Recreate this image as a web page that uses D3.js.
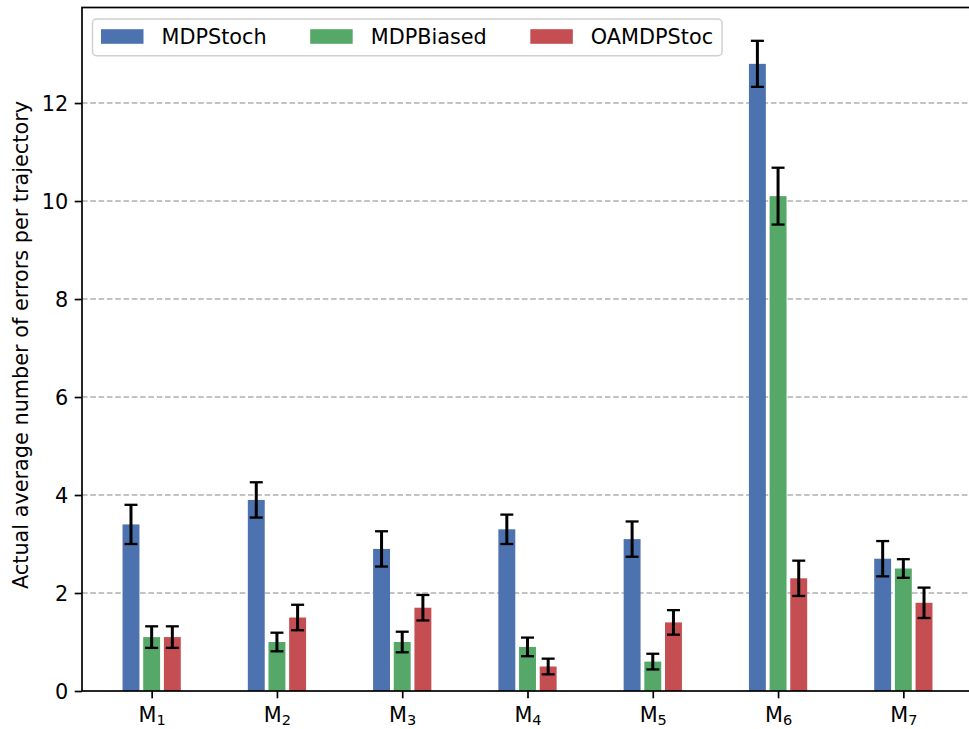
<!DOCTYPE html>
<html>
<head>
<meta charset="utf-8">
<script src="https://cdn.jsdelivr.net/npm/d3@7"></script>
<style>
  html, body { margin: 0; padding: 0; background: #fff; }
  svg { display: block; font-family: "DejaVu Sans", sans-serif; }
</style>
</head>
<body>
<svg id="chart" width="969" height="729"></svg>
<script>
// ---- data ----
const categories = ["1", "2", "3", "4", "5", "6", "7"]; // subscripts of M
const seriesNames = ["MDPStoch", "MDPBiased", "OAMDPStoc"];
const seriesColors = ["#4c72b0", "#55a868", "#c44e52"];
const mdpStoch      = [3.4, 3.9, 2.9, 3.3, 3.1, 12.8, 2.7];
const mdpStochErr   = [0.40, 0.36, 0.36, 0.30, 0.36, 0.47, 0.36];
const mdpBiased     = [1.1, 1.0, 1.0, 0.9, 0.6, 10.1, 2.5];
const mdpBiasedErr  = [0.22, 0.19, 0.21, 0.19, 0.16, 0.58, 0.19];
const oamdpStoc     = [1.1, 1.5, 1.7, 0.5, 1.4, 2.3, 1.8];
const oamdpStocErr  = [0.22, 0.26, 0.26, 0.16, 0.25, 0.36, 0.31];
const yTicks = [0, 2, 4, 6, 8, 10, 12];
const yLabel = "Actual average number of errors per trajectory";

const seriesValues = [mdpStoch, mdpBiased, oamdpStoc];
const seriesErrors = [mdpStochErr, mdpBiasedErr, oamdpStocErr];

// ---- layout ----
const W = 969, H = 729;
const plotLeft = 82, plotRight = 973, plotTop = 7.5, plotBottom = 691;
const FS = 20.8;
const svg = d3.select("#chart");

const x = d3.scaleLinear().domain([-0.556, categories.length - 1 + 0.556]).range([plotLeft, plotRight]);
const y = d3.scaleLinear().domain([0, 13.95]).range([plotBottom, plotTop]);
const barOffset = 0.165, barWidth = 0.135;

// grid
svg.append("g").selectAll("line").data(yTicks.filter(d => d > 0)).join("line")
  .attr("x1", plotLeft).attr("x2", plotRight)
  .attr("y1", d => y(d)).attr("y2", d => y(d))
  .attr("stroke", "#b0b0b0").attr("stroke-width", 1.5)
  .attr("stroke-dasharray", "5.6,2.7");

// bars
const rows = [];
seriesValues.forEach((vals, s) => vals.forEach((v, i) => rows.push({s, i, v, e: seriesErrors[s][i]})));
const xc = d => x(d.i + (d.s - 1) * barOffset);
svg.append("g").selectAll("rect").data(rows).join("rect")
  .attr("x", d => x(d.i + (d.s - 1) * barOffset - barWidth / 2))
  .attr("width", d => x(barWidth) - x(0))
  .attr("y", d => y(d.v))
  .attr("height", d => y(0) - y(d.v))
  .attr("fill", d => seriesColors[d.s]);

// error bars
const eg = svg.append("g").attr("stroke", "#000");
const capHalf = 6.5;
rows.forEach(d => {
  const cx = xc(d);
  eg.append("line").attr("x1", cx).attr("x2", cx).attr("y1", y(d.v - d.e)).attr("y2", y(d.v + d.e)).attr("stroke-width", 3);
  eg.append("line").attr("x1", cx - capHalf).attr("x2", cx + capHalf).attr("y1", y(d.v - d.e)).attr("y2", y(d.v - d.e)).attr("stroke-width", 2.3);
  eg.append("line").attr("x1", cx - capHalf).attr("x2", cx + capHalf).attr("y1", y(d.v + d.e)).attr("y2", y(d.v + d.e)).attr("stroke-width", 2.3);
});

// y axis
const yAxis = d3.axisLeft(y).tickValues(yTicks).tickSize(7.3).tickPadding(6.5).tickFormat(d3.format("d"));
const yg = svg.append("g").attr("transform", `translate(${plotLeft},0)`).call(yAxis);
yg.select(".domain").remove();
yg.selectAll(".tick line").attr("stroke", "#000").attr("stroke-width", 1.7);
yg.selectAll(".tick text").attr("font-size", FS).attr("font-family", "DejaVu Sans").attr("fill", "#000").attr("dy", "0.36em");

// x axis
const xAxis = d3.axisBottom(x).tickValues(d3.range(categories.length)).tickSize(7.3).tickFormat(() => "");
const xg = svg.append("g").attr("transform", `translate(0,${plotBottom})`).call(xAxis);
xg.select(".domain").remove();
xg.selectAll(".tick line").attr("stroke", "#000").attr("stroke-width", 1.7);
xg.selectAll(".tick").each(function(d, i) {
  const t = d3.select(this).append("text")
    .attr("y", 30.6).attr("text-anchor", "middle").attr("fill", "#000")
    .attr("font-size", FS).attr("font-family", "DejaVu Sans");
  t.append("tspan").text("M");
  t.append("tspan").attr("font-size", FS * 0.7).attr("dy", 3.2).text(categories[i]);
});

// spines
svg.append("rect").attr("x", plotLeft).attr("y", plotTop)
  .attr("width", plotRight - plotLeft).attr("height", plotBottom - plotTop)
  .attr("fill", "none").attr("stroke", "#000").attr("stroke-width", 1.7);

// y label
svg.append("text").attr("transform", "translate(28,345) rotate(-90)")
  .attr("text-anchor", "middle").attr("font-size", FS).attr("fill", "#000").text(yLabel);

// legend
const lg = svg.append("g");
const box = lg.append("rect").attr("x", 92.5).attr("y", 19).attr("height", 36.7)
  .attr("rx", 4).attr("fill", "#fff").attr("fill-opacity", 0.8)
  .attr("stroke", "#d0d0d0").attr("stroke-width", 1.5);
let lx = 101;
seriesNames.forEach((name, s) => {
  lg.append("rect").attr("x", lx).attr("y", 29.2).attr("width", 42.5).attr("height", 14.6).attr("fill", seriesColors[s]);
  const t = lg.append("text").attr("x", lx + 60.5).attr("y", 43.5).attr("font-size", FS).attr("fill", "#000").text(name);
  const w = t.node().getComputedTextLength();
  lx = lx + 60.5 + w + 43.5;
});
box.attr("width", lx - 43.5 + 9 - 92.5);
</script>
</body>
</html>
